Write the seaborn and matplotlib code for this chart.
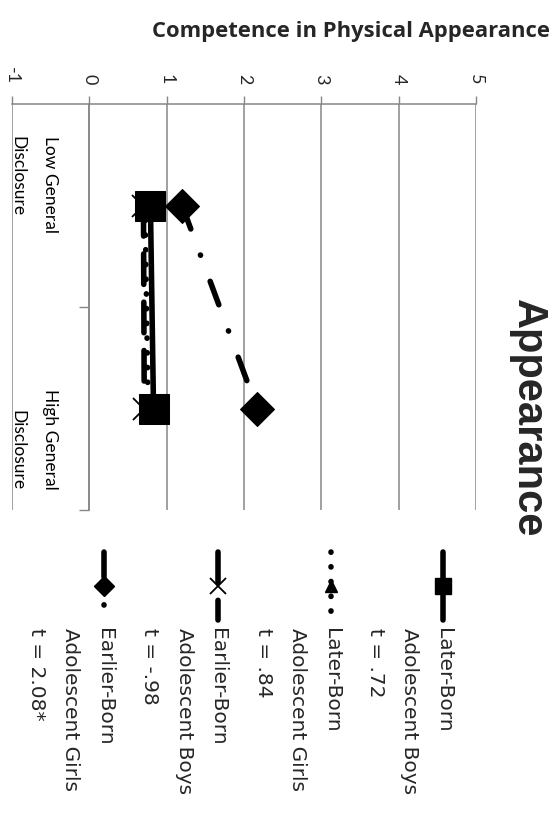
import pandas as pd
import seaborn as sns
import matplotlib.pyplot as plt
from matplotlib.lines import Line2D

# chart values
categories = ["Low General\nDisclosure", "High General\nDisclosure"]
groups = ["Later-Born\nAdolescent Boys\nt = .72",
          "Later-Born\nAdolescent Girls\nt = .84",
          "Earlier-Born\nAdolescent Boys\nt = -.98",
          "Earlier-Born\nAdolescent Girls\nt = 2.08*"]
later_boys = [0.79, 0.83]
later_girls = [0.72, 0.76]
earlier_boys = [0.70, 0.71]
earlier_girls = [1.20, 2.17]
value_ticks = [-1, 0, 1, 2, 3, 4, 5]

series = [later_boys, later_girls, earlier_boys, earlier_girls]
rows = []
for g, vals in zip(groups, series):
    for i, v in enumerate(vals):
        rows.append({"group": g, "pos": i, "score": v})
df = pd.DataFrame(rows)

sns.set_theme(style="white")
plt.rcParams['font.family'] = ['Lato', 'DejaVu Sans']
plt.rcParams['axes.unicode_minus'] = False

# line looks per group
looks = [
    dict(linestyle="-", marker="s", markersize=22, zorder=6),
    dict(linestyle=(0, (0.05, 2.6)), marker="^", markersize=12, zorder=4),
    dict(linestyle=(0, (5.5, 3.2)), marker="x", markersize=16, markeredgewidth=1.3, zorder=3),
    dict(linestyle=(0, (4.5, 5.0, 0.05, 5.0)), marker="D", markersize=17, zorder=5),
]
legend_ms = [12, 9, 11, 10]

fig = plt.figure(figsize=(5.57, 8.14), dpi=100)
ax = fig.add_axes([12 / 557, 1 - 510 / 814, 464 / 557, 406 / 814])

for g, lk in zip(groups, looks):
    sub = df[df["group"] == g]
    sns.lineplot(data=sub, x="score", y="pos", orient="y", estimator=None,
                 sort=False, color="black", lw=4, dash_capstyle="round",
                 markeredgecolor="black", ax=ax, **lk)

ax.set_xlim(value_ticks[0], value_ticks[-1])
ax.set_ylim(1.5, -0.5)
ax.set_xlabel("")
ax.set_ylabel("")
ax.set_xticks(value_ticks)
ax.xaxis.tick_top()
ax.tick_params(axis="x", labelrotation=-90, length=6, width=1, color="#868686",
               labelsize=13, pad=8, direction="out", top=True, bottom=False)
ax.set_yticks([0.5, 1.5])
ax.set_yticklabels([])
ax.tick_params(axis="y", length=7, width=1, color="#868686", direction="out", left=True)
ax.grid(axis="x", color="#868686", lw=1.1)
ax.grid(axis="y", visible=False)
for s in ["bottom", "right"]:
    ax.spines[s].set_visible(False)
ax.spines["top"].set_color("#868686")
ax.spines["top"].set_linewidth(1.1)
ax.spines["left"].set_position(("data", 0))
ax.spines["left"].set_color("#868686")
ax.spines["left"].set_linewidth(1.1)

# category labels, one text per line (rotated like the whole chart)
px = 77.0  # pixels per value unit
cat_first_x = (50 - 89) / px
cat_step = 33 / px
cat_anchor = [(-0.34, "top"), (1.40, "bottom")]
for c, (yy, va) in zip(categories, cat_anchor):
    for k, line in enumerate(c.split("\n")):
        ax.text(cat_first_x - k * cat_step, yy, line, rotation=-90, ha="center",
                va=va, fontsize=12.5, color="black")

fig.text(351 / 557, 1 - 32 / 814, "Competence in Physical Appearance",
         ha="center", va="center", fontsize=15.8, fontweight="bold", family="Open Sans")
fig.text(528 / 557, 1 - 418 / 814, "Appearance", rotation=-90, ha="center",
         va="center", fontsize=30, fontweight="bold", family="Liberation Sans")

# legend drawn by hand, rotated like the chart
lax = fig.add_axes([0, 0, 1, 1])
lax.set_xlim(0, 557)
lax.set_ylim(814, 0)
lax.axis("off")
leg_x = [443, 331, 218, 104]
for g, lk, lx, ms in zip(groups, looks, leg_x, legend_ms):
    lax.add_line(Line2D([lx, lx], [552, 620], color="black", lw=4,
                        linestyle=lk["linestyle"], dash_capstyle="round",
                        solid_capstyle="round"))
    lax.add_line(Line2D([lx], [586], color="black", linestyle="none",
                        marker=lk["marker"], markersize=ms,
                        markeredgewidth=lk.get("markeredgewidth", 1),
                        markeredgecolor="black"))
    for k, line in enumerate(g.split("\n")):
        lax.text(lx - k * 34, 628, line, rotation=-90, ha="center", va="top",
                 fontsize=14.5, family="DejaVu Sans")

fig.savefig("out.png", dpi=100)
